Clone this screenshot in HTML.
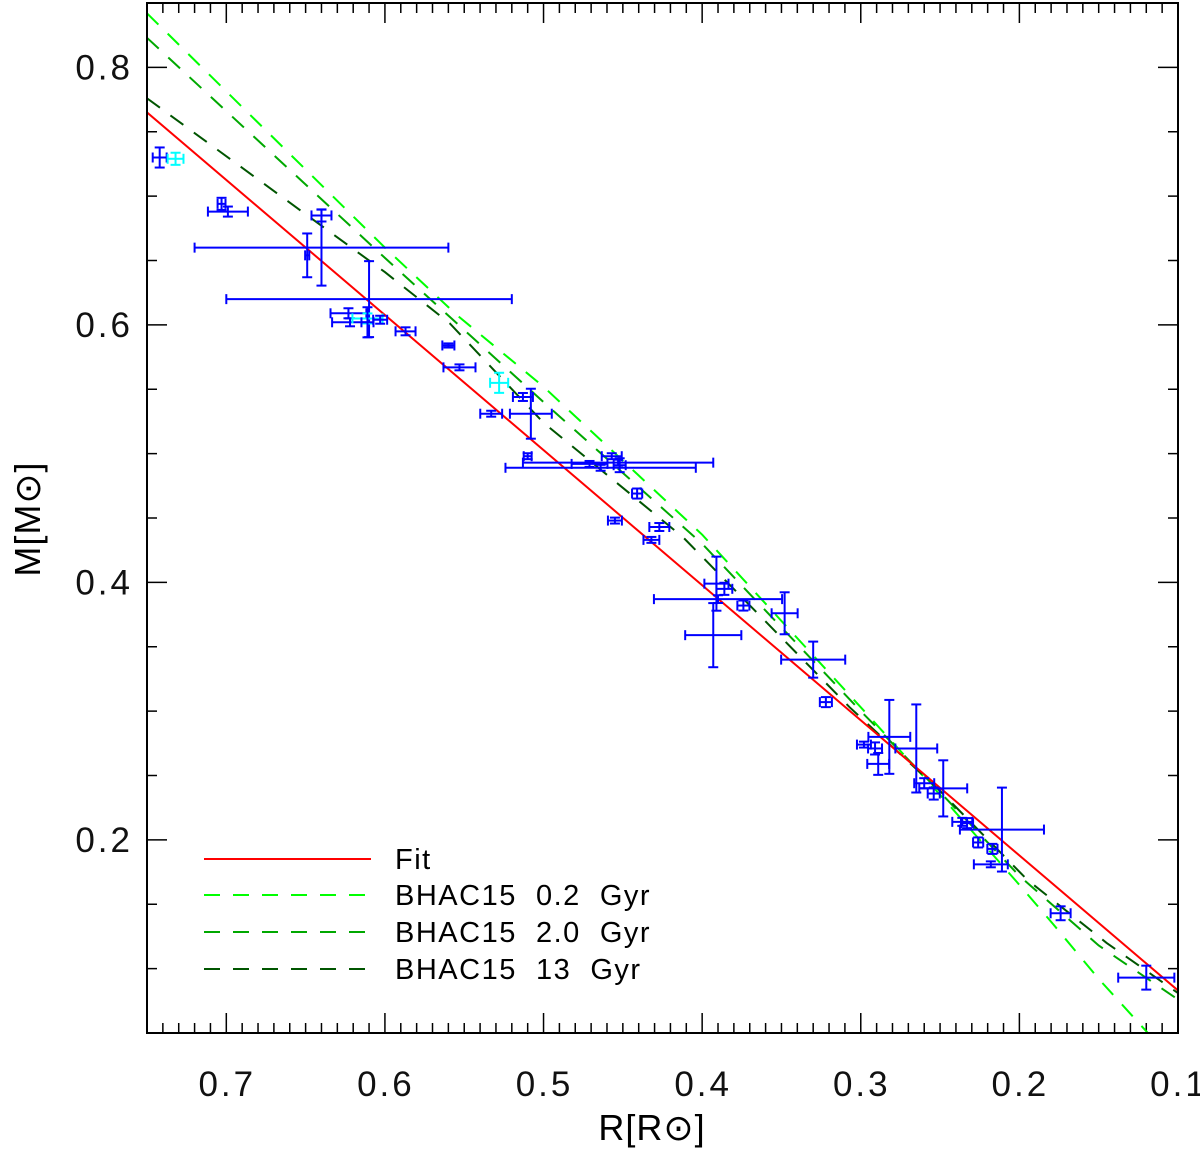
<!DOCTYPE html>
<html><head><meta charset="utf-8"><style>
html,body{margin:0;padding:0;background:#fff;}
svg{display:block;font-family:"Liberation Sans","DejaVu Sans",sans-serif;}
text{white-space:pre;}
</style></head><body>
<svg id="chart" width="1200" height="1154" viewBox="0 0 1200 1154" xmlns="http://www.w3.org/2000/svg">
<rect x="0" y="0" width="1200" height="1154" fill="#fff"/>
<g id="grid-ticks"></g>
<g id="models"></g>
<g id="points"></g>
<rect x="147" y="3" width="1031" height="1030" fill="none" stroke="#000" stroke-width="2"/>
<g id="labels" font-size="35" letter-spacing="3" fill="#111"></g>
<text x="652" y="1140" font-size="36" letter-spacing="1" text-anchor="middle">R[R<tspan font-family="DejaVu Sans">⊙</tspan>]</text>
<text transform="translate(40,519) rotate(-90)" font-size="36" letter-spacing="1" text-anchor="middle">M[M<tspan font-family="DejaVu Sans">⊙</tspan>]</text>
<g id="legend" font-size="29" letter-spacing="1.5">
  <line x1="204" y1="859" x2="371" y2="859" stroke="#ff0000" stroke-width="2"/>
  <text x="395" y="869">Fit</text>
  <line x1="204" y1="895" x2="371" y2="895" stroke="#00ff00" stroke-width="2" stroke-dasharray="16,13"/>
  <text x="395" y="905">BHAC15  0.2  Gyr</text>
  <line x1="204" y1="932" x2="371" y2="932" stroke="#00a800" stroke-width="2" stroke-dasharray="16,13"/>
  <text x="395" y="942">BHAC15  2.0  Gyr</text>
  <line x1="204" y1="969" x2="371" y2="969" stroke="#005500" stroke-width="2" stroke-dasharray="16,13"/>
  <text x="395" y="979">BHAC15  13  Gyr</text>
</g>
</svg>
<script>
const xTicks = [0.7, 0.6, 0.5, 0.4, 0.3, 0.2, 0.1];
const xTickLabels = ["0.7","0.6","0.5","0.4","0.3","0.2","0.1"];
const yTicks = [0.2, 0.4, 0.6, 0.8];
const yTickLabels = ["0.2","0.4","0.6","0.8"];
const fitR = [0.75, 0.1];
const fitM = [0.765, 0.083];
const m02R = [0.75, 0.6, 0.555, 0.5, 0.4, 0.3, 0.25, 0.2, 0.179, 0.15, 0.119];
const m02M = [0.842, 0.66, 0.608, 0.552, 0.437, 0.303, 0.235, 0.165, 0.135, 0.092, 0.05];
const m2R = [0.75, 0.6, 0.5, 0.4, 0.3, 0.25, 0.2, 0.15, 0.1];
const m2M = [0.823, 0.652, 0.54, 0.43, 0.3, 0.237, 0.172, 0.118, 0.076];
const m13R = [0.75, 0.6, 0.559, 0.5, 0.412, 0.307, 0.25, 0.195, 0.145, 0.1];
const m13M = [0.776, 0.641, 0.601, 0.524, 0.435, 0.303, 0.238, 0.169, 0.12, 0.081];
const ptR = [0.742,0.732,0.703,0.699,0.640,0.640,0.649,0.610,0.623,0.622,0.611,0.611,0.603,0.587,0.560,0.553,0.528,0.513,0.533,0.508,0.510,0.453,0.464,0.471,0.457,0.452,0.441,0.455,0.427,0.432,0.391,0.386,0.390,0.393,0.374,0.348,0.330,0.322,0.298,0.291,0.282,0.289,0.265,0.260,0.248,0.254,0.236,0.233,0.211,0.226,0.217,0.218,0.174,0.120];
const ptM = [0.730,0.729,0.694,0.688,0.685,0.660,0.654,0.620,0.609,0.602,0.605,0.602,0.604,0.595,0.584,0.567,0.555,0.544,0.531,0.531,0.498,0.493,0.489,0.492,0.498,0.491,0.469,0.448,0.443,0.433,0.399,0.395,0.387,0.359,0.382,0.376,0.340,0.307,0.274,0.271,0.280,0.259,0.271,0.244,0.240,0.236,0.214,0.213,0.208,0.198,0.193,0.181,0.143,0.093];
const errR = [0.0044,0.005,0.0025,0.0126,0.0063,0.080,0.0013,0.090,0.0113,0.0113,0.0095,0.0038,0.0044,0.0063,0.0038,0.0101,0.0057,0.0063,0.0069,0.0132,0.0025,0.060,0.060,0.0113,0.0063,0.0038,0.0032,0.0044,0.0063,0.005,0.0076,0.005,0.0404,0.0177,0.0038,0.0082,0.0202,0.0038,0.0044,0.0044,0.0132,0.0069,0.0132,0.0063,0.0151,0.0038,0.0063,0.0038,0.0265,0.0032,0.0032,0.0107,0.0063,0.0177];
const errM = [0.0078,0.0047,0.0047,0.0039,0.0047,0.0295,0.017,0.0295,0.0039,0.0031,0.0039,0.0117,0.0031,0.0031,0.0016,0.0023,0.0078,0.0031,0.0023,0.0194,0.0023,0.0023,0.0023,0.0023,0.0023,0.0054,0.0039,0.0023,0.0031,0.0023,0.021,0.0047,0.003,0.0249,0.0039,0.0163,0.014,0.0039,0.0023,0.0047,0.0287,0.0085,0.0342,0.0039,0.0218,0.0047,0.0031,0.0039,0.0326,0.0039,0.0039,0.0023,0.0054,0.0093];
const ptCyan = [1,10,16];

const NS = "http://www.w3.org/2000/svg";
const X0 = 147, X1 = 1178, Y0 = 3, Y1 = 1033;
const RMAX = 0.75, RMIN = 0.1, MMIN = 0.05, MMAX = 0.85;
function sx(r){ return X0 + (RMAX - r) / (RMAX - RMIN) * (X1 - X0); }
function sy(m){ return Y0 + (MMAX - m) / (MMAX - MMIN) * (Y1 - Y0); }
function mk(tag, attrs, parent){ const e = document.createElementNS(NS, tag); for (const k in attrs) e.setAttribute(k, attrs[k]); parent.appendChild(e); return e; }

const ticksG = document.getElementById('grid-ticks');
for (let i = 10; i <= 75; i++) {
  const r = i / 100; const x = sx(r); const major = (i % 10 === 0); const len = major ? 20 : 10;
  const t1 = mk('line', {x1:x, y1:Y1, x2:x, y2:Y1-len, stroke:'#000', 'stroke-width':1.5}, ticksG);
  
  
  const t2 = mk('line', {x1:x, y1:Y0, x2:x, y2:Y0+len, stroke:'#000', 'stroke-width':1.5}, ticksG);
  
  
}
for (let i = 1; i <= 17; i++) {
  const m = i * 0.05; const y = sy(m); const major = (i % 4 === 0); const len = major ? 20 : 10;
  const t1 = mk('line', {x1:X0, y1:y, x2:X0+len, y2:y, stroke:'#000', 'stroke-width':1.5}, ticksG);
  
  
  const t2 = mk('line', {x1:X1, y1:y, x2:X1-len, y2:y, stroke:'#000', 'stroke-width':1.5}, ticksG);
  
  
}
const labelsG = document.getElementById('labels');
xTicks.forEach((r, i) => {
  const t = mk('text', {x:sx(r)+1, y:1096, 'text-anchor':'middle'}, labelsG);
  t.textContent = xTickLabels[i];
  
  
});
yTicks.forEach((m, i) => {
  const t = mk('text', {x:133, y:sy(m)+12, 'text-anchor':'end'}, labelsG);
  t.textContent = yTickLabels[i];
  
  
});

const modelsG = document.getElementById('models');
const cp = mk('clipPath', {id:'clip'}, modelsG);
mk('rect', {x:X0, y:Y0, width:X1-X0, height:Y1-Y0}, cp);
function poly(R, M, color, dash, name){
  const d = R.map((r,i)=> (i?'L':'M') + sx(r).toFixed(1) + ' ' + sy(M[i]).toFixed(1)).join(' ');
  const p = mk('path', {d:d, fill:'none', stroke:color, 'stroke-width':2, 'clip-path':'url(#clip)'}, modelsG);
  if (dash) p.setAttribute('stroke-dasharray', dash);
  
  
}
poly(m02R, m02M, '#00ff00', '16,13', 'bhac15-0.2gyr-line');
poly(m2R, m2M, '#00a800', '16,13', 'bhac15-2gyr-line');
poly(m13R, m13M, '#005500', '16,13', 'bhac15-13gyr-line');
poly(fitR, fitM, '#ff0000', null, 'fit-line');

const ptsG = document.getElementById('points');
ptR.forEach((r, i) => {
  const col = ptCyan.includes(i) ? '#00ffff' : '#0000ff';
  const g = mk('g', {stroke:col, 'stroke-width':2}, ptsG);
  
  
  const cx = sx(r), cy = sy(ptM[i]);
  const xl = sx(r + errR[i]), xr = sx(r - errR[i]);
  const yt = sy(ptM[i] + errM[i]), yb = sy(ptM[i] - errM[i]);
  const c = 5;
  mk('line', {x1:xl, y1:cy, x2:xr, y2:cy}, g);
  mk('line', {x1:xl, y1:cy-c, x2:xl, y2:cy+c}, g);
  mk('line', {x1:xr, y1:cy-c, x2:xr, y2:cy+c}, g);
  mk('line', {x1:cx, y1:yt, x2:cx, y2:yb}, g);
  mk('line', {x1:cx-c, y1:yt, x2:cx+c, y2:yt}, g);
  mk('line', {x1:cx-c, y1:yb, x2:cx+c, y2:yb}, g);
});
</script>
</body></html>
